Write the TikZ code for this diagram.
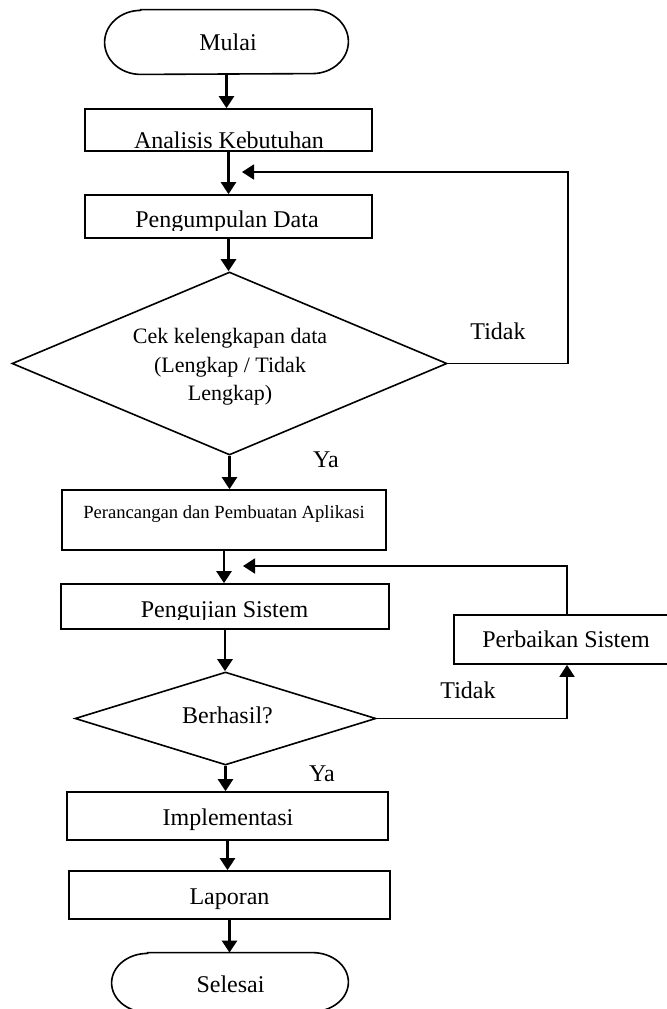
\documentclass[tikz,border=0pt]{standalone}
\usepackage{fontspec}
\setmainfont{Liberation Serif}
\usetikzlibrary{arrows.meta,shapes.geometric,calc}
\begin{document}
\begin{tikzpicture}[x=0.5pt,y=-0.5pt,
  boxshape/.style={draw,line width=0.85pt,rectangle,inner sep=0pt},
  frame/.style={draw=none,rectangle,inner sep=0pt},
  termline/.style={line width=0.8pt},
  decision/.style={draw,line width=0.8pt,diamond,inner sep=0pt},
  lbl/.style={font=\fontsize{12}{14}\selectfont,inner sep=0pt,anchor=base},
  conn/.style={line width=1.3pt,-{Triangle[length=6pt,width=7.5pt]}},
  loopline/.style={line width=0.9pt},
  loopconn/.style={line width=0.9pt,-{Triangle[length=6pt,width=7.5pt]}},
]
\useasboundingbox (0,0) rectangle (667,1009);
\clip (0,0) rectangle (667,1009);

% terminators
\node[frame,minimum width=121.5pt,minimum height=32pt] (start) at (226.5,42) {};
\draw[termline] ($(start.north west)+(18pt,0)$) -- ($(start.north east)+(-18pt,0)$)
  arc[start angle=90,end angle=-90,x radius=18pt,y radius=16pt]
  -- ($(start.south west)+(18pt,0)$)
  arc[start angle=270,end angle=90,x radius=18pt,y radius=16pt] -- cycle;
\node[frame,minimum width=118pt,minimum height=29.5pt] (end) at (230,982.5) {};
\draw[termline] ($(end.north west)+(18pt,0)$) -- ($(end.north east)+(-18pt,0)$)
  arc[start angle=90,end angle=-90,x radius=18pt,y radius=14.75pt]
  -- ($(end.south west)+(18pt,0)$)
  arc[start angle=270,end angle=90,x radius=18pt,y radius=14.75pt] -- cycle;

% boxes
\node[boxshape,minimum width=143.5pt,minimum height=21pt] (A) at (228.5,130) {};
\node[boxshape,minimum width=143.5pt,minimum height=21.5pt] (P) at (228.5,216.5) {};
\node[decision,minimum width=217.5pt,minimum height=91.5pt] (D1) at (229.5,363.5) {};
\node[boxshape,minimum width=162pt,minimum height=30pt] (R) at (224,520) {};
\node[boxshape,minimum width=164pt,minimum height=22.5pt] (U) at (225,606.5) {};
\node[decision,minimum width=150.5pt,minimum height=46.5pt] (D2) at (225.5,718.5) {};
\node[boxshape,minimum width=112pt,minimum height=24.5pt] (F) at (566,639.5) {};
\node[boxshape,minimum width=160.5pt,minimum height=24pt] (I) at (227.5,816) {};
\node[boxshape,minimum width=160.5pt,minimum height=24pt] (L) at (229.5,895) {};

% texts
\node[lbl] (tstart) at (228,50) {Mulai};
\node[lbl] (tA) at (229,148) {Analisis Kebutuhan};
\begin{scope}
  \clip (85,195) rectangle (372,230.5);
  \node[lbl] (tP) at (227,227) {Pengumpulan Data};
\end{scope}
\node[font=\fontsize{11}{14.25}\selectfont,inner sep=0pt,align=center] (tD1) at (230,367)
  {Cek kelengkapan data\\(Lengkap / Tidak\\Lengkap)};
\node[lbl,font=\fontsize{9.3}{11}\selectfont] (tR) at (224,518) {Perancangan dan Pembuatan Aplikasi};
\begin{scope}
  \clip (61,584) rectangle (389,619.5);
  \node[lbl] (tU) at (224.5,617) {Pengujian Sistem};
\end{scope}
\node[lbl] (tD2) at (227.5,723) {Berhasil?};
\node[lbl] (tF) at (566,647) {Perbaikan Sistem};
\node[lbl] (tI) at (228,825) {Implementasi};
\node[lbl] (tL) at (229.5,904) {Laporan};
\node[lbl] (tend) at (230.5,992) {Selesai};
\node[lbl] (no1) at (498,339) {Tidak};
\node[lbl] (yes1) at (326,467) {Ya};
\node[lbl] (no2) at (468,698) {Tidak};
\node[lbl] (yes2) at (322,781) {Ya};

% main flow
\draw[conn] (start.south) -- (start.south |- A.north);
\draw[conn] (A.south) -- (A.south |- P.north);
\draw[conn] (P.south) -- (P.south |- D1.north);
\draw[conn] (D1.south) -- (D1.south |- R.north);
\draw[conn] (R.south) -- (R.south |- U.north);
\draw[conn] (U.south) -- (U.south |- D2.north);
\draw[conn] (D2.south) -- (D2.south |- I.north);
\draw[conn] (I.south) -- (I.south |- L.north);
\draw[conn] (L.south) -- (L.south |- end.north);

% loop 1
\coordinate (fb1top) at (568,172);
\coordinate (fb1tip) at (242,172);
\draw[loopconn] (D1.east) -- (D1.east -| fb1top) -- (fb1top) -- (fb1tip);

% loop 2
\coordinate (fb2corner) at (567,718.5);
\coordinate (fb2tip) at (243,566);
\draw[loopconn] (D2.east) -- (fb2corner) -- (fb2corner |- F.south);
\draw[loopconn] (fb2corner |- F.north) -- (fb2corner |- fb2tip) -- (fb2tip);
\end{tikzpicture}
\end{document}
